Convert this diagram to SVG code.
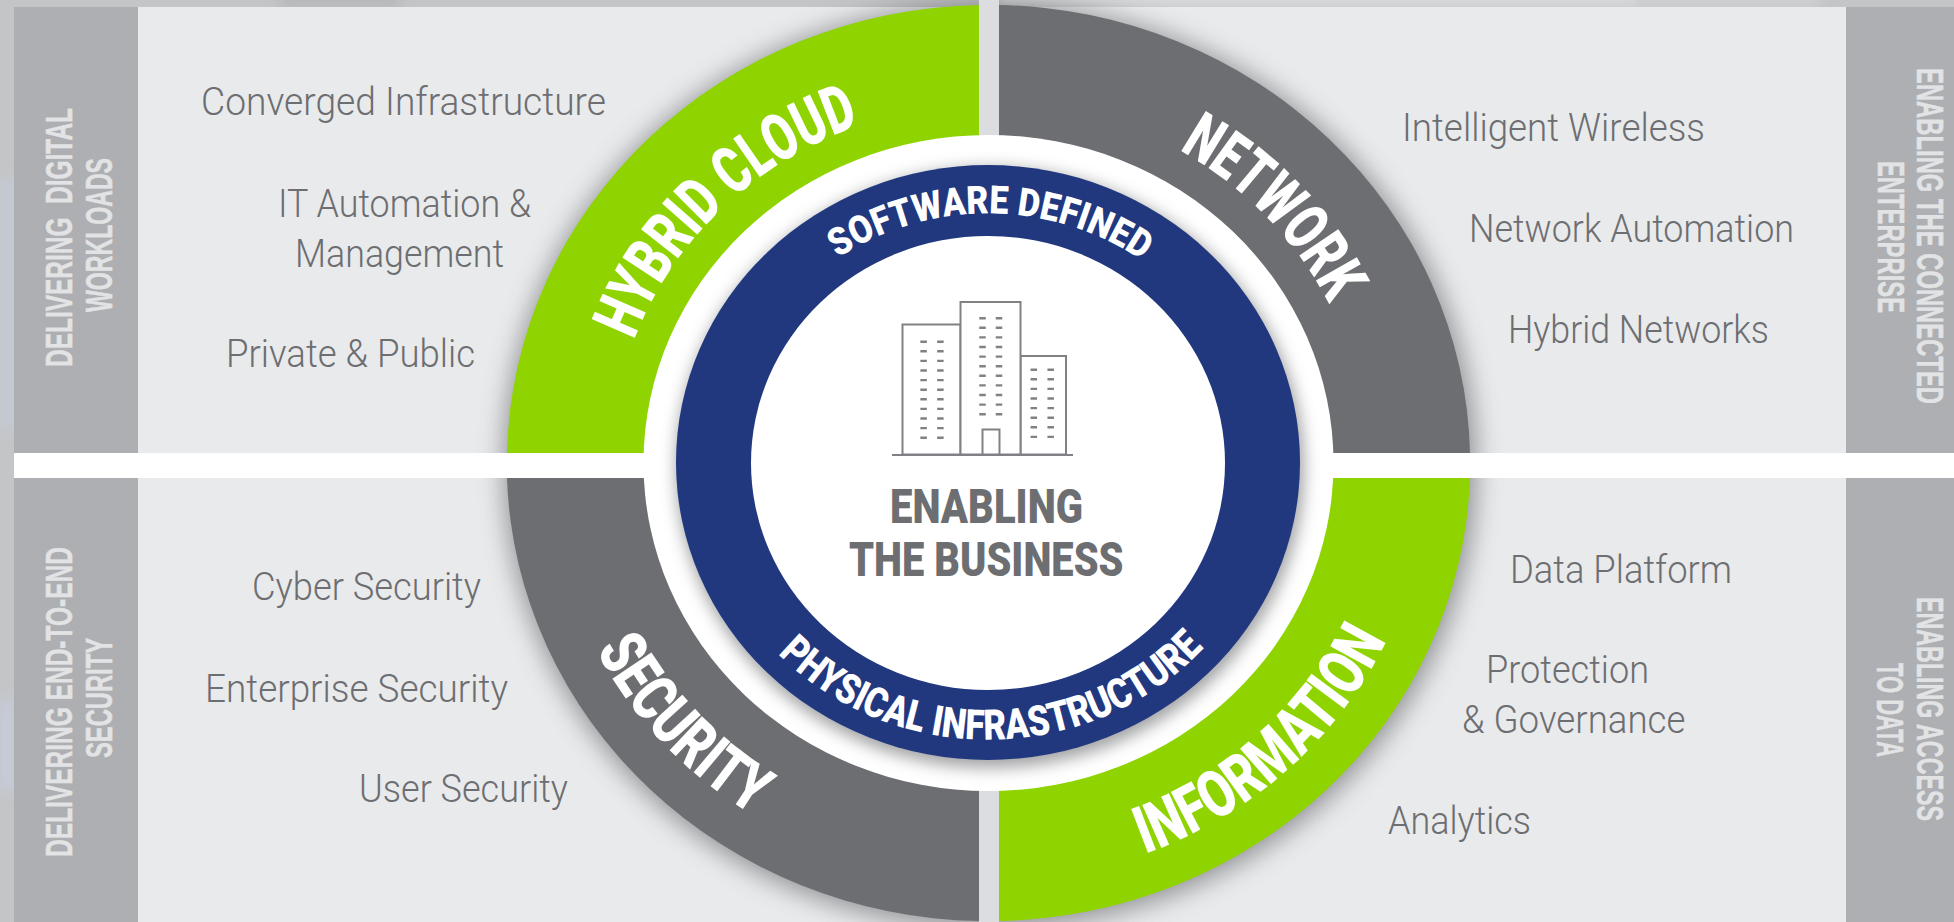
<svg xmlns="http://www.w3.org/2000/svg" width="1954" height="922" viewBox="0 0 1954 922">
<style>
.lbl{font-family:Roboto,"Liberation Sans",sans-serif;font-weight:300;font-size:38px;fill:#6d6e71}
.bar{font-family:"Liberation Sans",Arial,sans-serif;font-weight:700;font-size:37px;fill:#e2e3e5;stroke:#e2e3e5;stroke-width:.5}
.arc{font-family:Roboto,"Liberation Sans",sans-serif;font-weight:900;font-size:66px;fill:#fff}
.ring{font-family:Roboto,"Liberation Sans",sans-serif;font-weight:900;font-size:39px;fill:#fff}
.ctr{font-family:Roboto,"Liberation Sans",sans-serif;font-weight:900;font-size:48px;fill:#6d6e71}
.bld{fill:#fff;stroke:#808184;stroke-width:2}
.win{fill:none;stroke:#808184;stroke-width:6.5;stroke-dasharray:2.4 7.2}
</style>
<defs>
<filter id="b8" x="-20%" y="-20%" width="140%" height="140%"><feGaussianBlur stdDeviation="8"/></filter>
<filter id="b14" x="-20%" y="-20%" width="140%" height="140%"><feGaussianBlur stdDeviation="13"/></filter>
<filter id="b3" x="-50%" y="-300%" width="200%" height="700%"><feGaussianBlur stdDeviation="6"/></filter>
<path id="pHybrid" d="M634 340A377 359 0 0 1 988 104"/>
<path id="pNetwork" d="M1179 150A379 361 0 0 1 1367 463"/>
<path id="pInformation" d="M1145 854A440 419 0 0 0 1428 463"/>
<path id="pSecurity" d="M596 650A438 417 0 0 0 988 880"/>
<path id="pSoftware" d="M838 258A262 247 0 0 1 1250 463"/>
<path id="pPhysical" d="M778 654A290 276 0 0 0 1278 463"/>
</defs>

<g id="background">
<rect width="1954" height="922" fill="#c4c5c7"/>
<rect x="0" y="180" width="14" height="250" fill="#c3cad6" filter="url(#b3)"/>
<rect x="0" y="700" width="14" height="90" fill="#c5ccda" filter="url(#b3)"/>
<rect x="1000" y="-6" width="640" height="13" fill="#dadbdc" filter="url(#b3)"/>
<rect x="280" y="-6" width="120" height="13" fill="#b5b6b8" filter="url(#b3)"/>
<rect x="1640" y="-6" width="180" height="13" fill="#d0d1d2" filter="url(#b3)"/>
</g>

<g id="panels">
<rect x="138" y="7" width="1708" height="446" fill="#e9eaec"/>
<rect x="138" y="478" width="1708" height="444" fill="#e9eaec"/>
<rect x="14" y="7" width="124" height="446" fill="#aeafb2"/>
<rect x="14" y="478" width="124" height="444" fill="#aeafb2"/>
<rect x="1846" y="7" width="108" height="446" fill="#aeafb2"/>
<rect x="1846" y="478" width="108" height="444" fill="#aeafb2"/>
</g>

<ellipse id="disc-shadow" cx="990" cy="466" rx="486" ry="462" fill="#55565a" opacity=".6" filter="url(#b14)"/>
<rect id="stripe" x="14" y="453" width="1940" height="25" fill="#fff"/>
<rect id="gap" x="979" y="0" width="20" height="922" fill="#dcdde0"/>

<g id="hybrid-cloud">
<path d="M507 453A481 458 0 0 1 979 5V453Z" fill="#8fd400"/>
<text class="arc"><textPath href="#pHybrid" textLength="322" lengthAdjust="spacingAndGlyphs">HYBRID CLOUD</textPath></text>
</g>
<g id="network">
<path d="M999 5A481 458 0 0 1 1470 453H999Z" fill="#6d6e71"/>
<text class="arc"><textPath href="#pNetwork" textLength="218" lengthAdjust="spacingAndGlyphs">NETWORK</textPath></text>
</g>
<g id="security">
<path d="M507 478A481 458 0 0 0 979 921V478Z" fill="#6d6e71"/>
<text class="arc"><textPath href="#pSecurity" textLength="230" lengthAdjust="spacingAndGlyphs">SECURITY</textPath></text>
</g>
<g id="information">
<path d="M999 921A481 458 0 0 0 1470 478H999Z" fill="#8fd400"/>
<text class="arc"><textPath href="#pInformation" textLength="330" lengthAdjust="spacingAndGlyphs">INFORMATION</textPath></text>
</g>

<g id="core">
<ellipse cx="988.5" cy="463" rx="345" ry="328" fill="#fff"/>
<ellipse cx="990" cy="468" rx="314" ry="300" fill="#55565a" opacity=".55" filter="url(#b8)"/>
<ellipse cx="988" cy="462.5" rx="312" ry="297.5" fill="#21387f"/>
<ellipse cx="988" cy="463" rx="237" ry="227" fill="#fff"/>
<text class="ring"><textPath href="#pSoftware" textLength="322" lengthAdjust="spacingAndGlyphs">SOFTWARE DEFINED</textPath></text>
<text class="ring" style="font-size:42px"><textPath href="#pPhysical" textLength="474" lengthAdjust="spacingAndGlyphs">PHYSICAL INFRASTRUCTURE</textPath></text>
<text class="ctr" x="890" y="523" textLength="193" lengthAdjust="spacingAndGlyphs">ENABLING</text>
<text class="ctr" x="849" y="576" textLength="274.5" lengthAdjust="spacingAndGlyphs">THE BUSINESS</text>
</g>

<g id="building">
<rect class="bld" x="902.5" y="324.5" width="58" height="130"/>
<rect class="bld" x="1020.5" y="356" width="45.5" height="98.5"/>
<rect class="bld" x="960.5" y="302" width="60" height="152.5"/>
<rect class="bld" x="982.5" y="429.5" width="17" height="25"/>
<path d="M892 455H1073" stroke="#808184" stroke-width="2.2" fill="none"/>
<path class="win" d="M923.6 340.5V442M940.4 340.5V442M982.5 317V418M999 317V418M1033.8 368.5V442M1050.7 368.5V442"/>
</g>

<g id="top-left-labels">
<text class="lbl" x="201" y="115" textLength="405" lengthAdjust="spacingAndGlyphs">Converged Infrastructure</text>
<text class="lbl" x="278" y="217" textLength="253" lengthAdjust="spacingAndGlyphs">IT Automation &amp;</text>
<text class="lbl" x="295" y="267" textLength="209" lengthAdjust="spacingAndGlyphs">Management</text>
<text class="lbl" x="226" y="367" textLength="249" lengthAdjust="spacingAndGlyphs">Private &amp; Public</text>
</g>
<g id="top-right-labels">
<text class="lbl" x="1402" y="141" textLength="303" lengthAdjust="spacingAndGlyphs">Intelligent Wireless</text>
<text class="lbl" x="1469" y="242" textLength="325" lengthAdjust="spacingAndGlyphs">Network Automation</text>
<text class="lbl" x="1508" y="343" textLength="261" lengthAdjust="spacingAndGlyphs">Hybrid Networks</text>
</g>
<g id="bottom-left-labels">
<text class="lbl" x="252" y="600" textLength="229" lengthAdjust="spacingAndGlyphs">Cyber Security</text>
<text class="lbl" x="205" y="702" textLength="303" lengthAdjust="spacingAndGlyphs">Enterprise Security</text>
<text class="lbl" x="359" y="802" textLength="209" lengthAdjust="spacingAndGlyphs">User Security</text>
</g>
<g id="bottom-right-labels">
<text class="lbl" x="1510" y="583" textLength="222" lengthAdjust="spacingAndGlyphs">Data Platform</text>
<text class="lbl" x="1486" y="683" textLength="163" lengthAdjust="spacingAndGlyphs">Protection</text>
<text class="lbl" x="1462" y="733" textLength="223.5" lengthAdjust="spacingAndGlyphs">&amp; Governance</text>
<text class="lbl" x="1388" y="834" textLength="143" lengthAdjust="spacingAndGlyphs">Analytics</text>
</g>

<g id="side-bars">
<text class="bar" transform="translate(72 367) rotate(-90)" textLength="259" lengthAdjust="spacingAndGlyphs" xml:space="preserve">DELIVERING  DIGITAL</text>
<text class="bar" transform="translate(112 312) rotate(-90)" textLength="154" lengthAdjust="spacingAndGlyphs">WORKLOADS</text>
<text class="bar" transform="translate(72 857) rotate(-90)" textLength="310" lengthAdjust="spacingAndGlyphs">DELIVERING END-TO-END</text>
<text class="bar" transform="translate(112 758) rotate(-90)" textLength="120" lengthAdjust="spacingAndGlyphs">SECURITY</text>
<text class="bar" transform="translate(1917 68) rotate(90)" textLength="336" lengthAdjust="spacingAndGlyphs">ENABLING THE CONNECTED</text>
<text class="bar" transform="translate(1878 161) rotate(90)" textLength="152" lengthAdjust="spacingAndGlyphs">ENTERPRISE</text>
<text class="bar" transform="translate(1917 597) rotate(90)" textLength="224" lengthAdjust="spacingAndGlyphs">ENABLING ACCESS</text>
<text class="bar" transform="translate(1877 663) rotate(90)" textLength="94" lengthAdjust="spacingAndGlyphs">TO DATA</text>
</g>
</svg>
